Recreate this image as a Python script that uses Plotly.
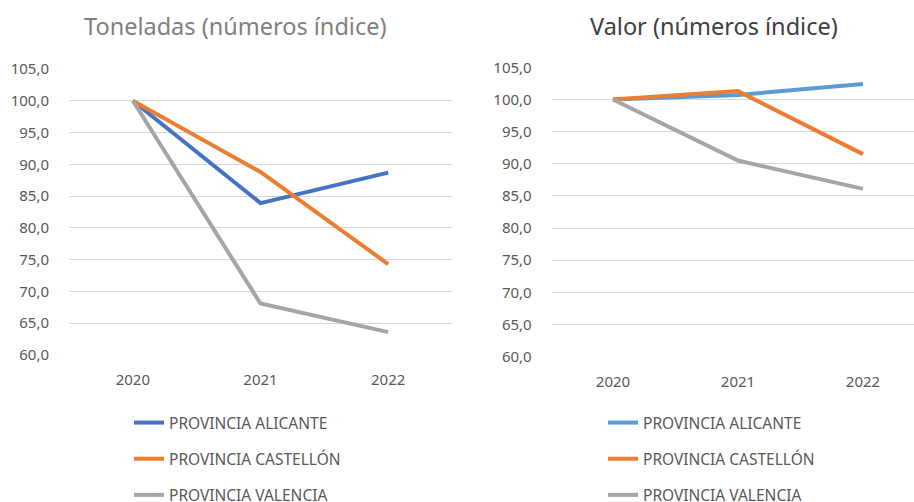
import plotly.graph_objects as go

years = ["2020", "2021", "2022"]
series_names = ["PROVINCIA ALICANTE", "PROVINCIA CASTELLÓN", "PROVINCIA VALENCIA"]

toneladas_alicante = [100.0, 83.9, 88.7]
toneladas_castellon = [100.0, 88.8, 74.3]
toneladas_valencia = [100.0, 68.1, 63.6]

valor_alicante = [100.0, 100.7, 102.4]
valor_castellon = [100.0, 101.3, 91.5]
valor_valencia = [100.0, 90.5, 86.1]

title_left = "Toneladas (números índice)"
title_right = "Valor (números índice)"

colors_left = ["#4472C4", "#ED7D31", "#A5A5A5"]
colors_right = ["#5B9BD5", "#ED7D31", "#A5A5A5"]

FONT = "Noto Sans"
TXT = "#595959"
W, H = 914, 502

fig = go.Figure()

left_data = [toneladas_alicante, toneladas_castellon, toneladas_valencia]
right_data = [valor_alicante, valor_castellon, valor_valencia]

for i, (name, ys) in enumerate(zip(series_names, left_data)):
    fig.add_trace(go.Scatter(
        x=years, y=ys, name=name, mode="lines",
        line=dict(color=colors_left[i], width=4),
        xaxis="x", yaxis="y", legend="legend", legendgroup="L%d" % i,
        hoverinfo="skip",
    ))
for i, (name, ys) in enumerate(zip(series_names, right_data)):
    fig.add_trace(go.Scatter(
        x=years, y=ys, name=name, mode="lines",
        line=dict(color=colors_right[i], width=4),
        xaxis="x2", yaxis="y2", legend="legend2", legendgroup="R%d" % i,
        hoverinfo="skip",
    ))

def yax(domain, anchor):
    return dict(
        domain=domain, anchor=anchor, range=[60, 105], dtick=5,
        tickformat=".1f", showgrid=True, gridcolor="#D9D9D9", gridwidth=1,
        zeroline=False, showline=False, ticks="",
        tickfont=dict(family=FONT, size=15, color=TXT),
        ticklabelstandoff=19, fixedrange=True,
    )

def xax(domain, anchor, rng):
    return dict(
        domain=domain, anchor=anchor, type="category", range=rng,
        showgrid=False, zeroline=False, showline=False, ticks="",
        tickfont=dict(family=FONT, size=15, color=TXT),
        ticklabelstandoff=14, fixedrange=True,
    )

legend_common = dict(
    orientation="v", yanchor="top", xanchor="left",
    font=dict(family=FONT, size=15.5, color=TXT),
    bgcolor="rgba(0,0,0,0)", tracegroupgap=13, itemwidth=30,
)

fig.update_layout(
    width=W, height=H,
    margin=dict(l=0, r=0, t=0, b=0, autoexpand=False),
    paper_bgcolor="white", plot_bgcolor="white",
    separators=",.",
    showlegend=True,
    xaxis=xax([69 / W, 452 / W], "y", [-0.5, 2.5]),
    yaxis=yax([(H - 355) / H, (H - 69) / H], "x"),
    xaxis2=xax([551.7 / W, 1.0], "y2", [-0.49, 2.408]),
    yaxis2=yax([(H - 356.7) / H, (H - 67.3) / H], "x2"),
    legend=dict(x=129 / W, y=(H - 406) / H, **legend_common),
    legend2=dict(x=603 / W, y=(H - 406) / H, **legend_common),
    annotations=[
        dict(text=title_left, x=235 / W, y=(H - 26) / H, xref="paper", yref="paper",
             xanchor="center", yanchor="middle", showarrow=False,
             font=dict(family=FONT, size=23.5, color="#808080")),
        dict(text=title_right, x=714 / W, y=(H - 26) / H, xref="paper", yref="paper",
             xanchor="center", yanchor="middle", showarrow=False,
             font=dict(family=FONT, size=23.5, color="#404040")),
    ],
)

fig.write_html(
    "out.html",
    config={"displayModeBar": False},
    post_script="document.body.style.margin='0';document.body.style.overflow='hidden';",
)
